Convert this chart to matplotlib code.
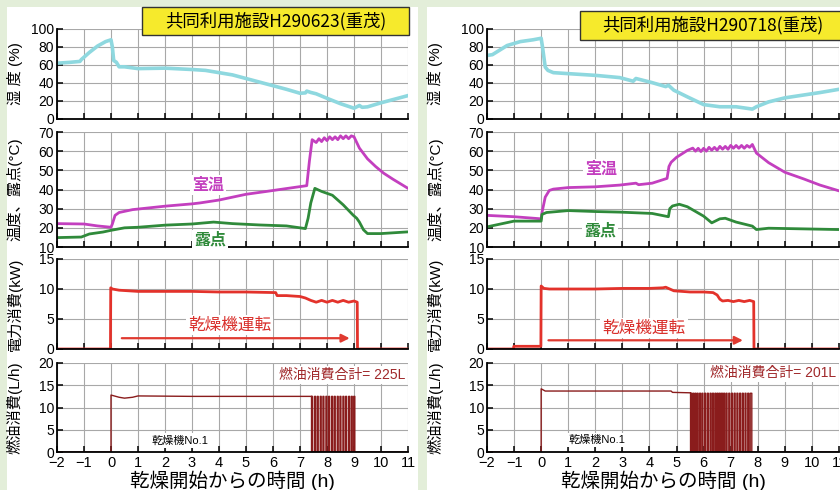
import matplotlib
matplotlib.use("Agg")
import matplotlib.pyplot as plt
from matplotlib.patches import Rectangle

plt.rcParams['font.family'] = ['Liberation Sans', 'Noto Sans CJK JP', 'DejaVu Sans']

# ---------------- data : left panel (H290623) ----------------
titles = ["共同利用施設H290623(重茂)", "共同利用施設H290718(重茂)"]
fuel_totals = ["燃油消費合計= 225L", "燃油消費合計= 201L"]

hum_t_L = [-2, -1.5, -1.15, -1.1, -0.8, -0.5, -0.2, 0, 0.05, 0.1, 0.2, 0.3, 0.5, 1, 2, 3, 3.5, 4, 4.5, 5,
           5.5, 6, 6.5, 7, 7.2, 7.25, 7.4, 7.6, 8, 8.5, 9, 9.2, 9.3, 9.5, 10, 10.5, 11]
hum_v_L = [62, 63, 64, 66, 74, 81, 86, 88, 80, 65, 63, 58, 58, 56, 56.5, 55, 54, 51.5, 49, 45,
           41, 37, 33, 28.6, 29, 31, 29.5, 28, 23, 17, 12, 15, 13, 13.5, 18, 22, 26]

room_t_L = [-2, -1, -0.5, 0, 0.05, 0.15, 0.3, 0.8, 2, 3, 3.3, 4, 4.5, 5, 5.76, 6.5, 7, 7.25, 7.35, 7.45,
            7.6, 7.7, 7.8, 7.9, 8.0, 8.1, 8.2, 8.3, 8.4, 8.5, 8.6, 8.7, 8.8, 8.9, 9.0, 9.2, 9.5, 9.8,
            10.1, 10.45, 11]
room_v_L = [22.2, 22, 21, 20.3, 22, 26.5, 28, 29.5, 31.3, 32.5, 33, 34.5, 36, 37.5, 39, 40.5, 41.5, 42, 55, 66,
            64.5, 66.5, 65, 67, 65.5, 67.5, 66, 67.5, 66, 68, 66.5, 68, 66.5, 68, 67.5, 61.6, 56, 52,
            48.5, 45.3, 40.6]

dew_t_L = [-2, -1.1, -0.8, -0.3, 0, 0.5, 1, 2, 3, 3.8, 4.5, 5.5, 6.5, 7, 7.2, 7.3, 7.4, 7.55, 7.8, 8.2,
           8.6, 8.97, 9.1, 9.2, 9.35, 9.5, 10, 11]
dew_v_L = [14.9, 15.2, 16.8, 17.8, 18.7, 20, 20.3, 21.4, 22, 23, 22.2, 21.5, 21, 20, 19.6, 25, 33, 40.6, 39, 37,
           32, 26.6, 25, 23, 19, 17, 17, 17.9]

pow_t_L = [-2, -0.02, -0.01, 0.05, 0.3, 1, 2, 3, 4, 5, 6.1, 6.15, 6.5, 7.0, 7.2, 7.4, 7.6, 7.8, 8.0, 8.2,
           8.4, 8.6, 8.8, 9.0, 9.12, 9.13, 11]
pow_v_L = [0, 0, 10.2, 10.0, 9.8, 9.6, 9.6, 9.6, 9.5, 9.5, 9.4, 8.9, 8.9, 8.75, 8.5, 8.1, 7.8, 8.1, 7.8, 8.1,
           7.8, 8.1, 7.8, 8.0, 7.8, 0, 0]

fuel_t_L = [-2, 0, 0, 0.3, 0.5, 0.8, 1.0, 3, 5, 7.43]
fuel_v_L = [0, 0, 12.8, 12.3, 12.1, 12.3, 12.6, 12.5, 12.5, 12.5]
pulse_on_L = [7.43, 7.54, 7.64, 7.75, 7.85, 7.96, 8.06, 8.17, 8.27, 8.38, 8.48, 8.59, 8.69, 8.80, 8.90, 8.99]
pulse_off_L = [7.465, 7.575, 7.675, 7.785, 7.885, 7.995, 8.095, 8.205, 8.305, 8.415, 8.515, 8.625, 8.725,
               8.835, 8.935, 9.03]
pulse_h_L = 12.5

# ---------------- data : right panel (H290718) ----------------
hum_t_R = [-2, -1.8, -1.26, -0.77, -0.3, 0, 0.05, 0.15, 0.25, 0.45, 1, 2, 2.9, 3.4, 3.5, 4.1, 4.6, 4.7,
           4.9, 5.4, 6, 6.6, 7.2, 7.8, 7.95, 8.4, 9, 10.3, 11]
hum_v_R = [70.6, 71.5, 81.6, 86, 88, 89.7, 80, 57.7, 54, 51.5, 50.4, 48.5, 46, 42, 45, 40.4, 36, 37.5,
           32, 24.6, 16, 13.6, 13.6, 11, 13.6, 19, 23.5, 29.4, 33]

room_t_R = [-2, -1, 0, 0.03, 0.15, 0.3, 0.45, 1, 2, 2.9, 3.5, 3.6, 4.1, 4.65, 4.72, 4.8, 5.0, 5.4, 5.6, 5.7,
            5.8, 5.9, 6.0, 6.1, 6.2, 6.3, 6.4, 6.5, 6.6, 6.7, 6.8, 6.9, 7.0, 7.1, 7.2, 7.3, 7.4, 7.5, 7.6,
            7.7, 7.8, 7.95, 8.4, 9, 9.7, 10.3, 11]
room_v_R = [26.5, 25.8, 24.7, 27.9, 36, 39.5, 40.2, 41, 41.4, 42.3, 43.3, 42.5, 43.3, 45.8, 52, 54.2, 56.8, 60.4, 61.6, 60,
            61.5, 59.8, 61.5, 60, 62, 60.5, 62, 60.5, 62.5, 61, 62.5, 61, 63, 61.5, 63, 61.5, 63, 61.5, 63,
            62, 63.5, 59, 54, 49, 45.5, 42.3, 39.3]

dew_t_R = [-2, -1.5, -1, 0, 0.03, 0.2, 1, 2, 2.9, 4.1, 4.7, 4.75, 4.85, 5.1, 5.4, 6, 6.3, 6.5, 6.6, 6.8,
           7.2, 7.8, 7.95, 8.4, 11]
dew_v_R = [20.5, 22, 23.5, 23.5, 27, 28, 29, 28.5, 28.2, 27.5, 25.8, 30, 31.4, 32.3, 31, 26.1, 22.6, 24, 24.7, 25,
           23, 20.9, 19.1, 19.8, 19.1]

pow_t_R = [-2, -1.02, -1.01, -0.01, 0.0, 0.1, 0.3, 1, 2, 3, 4, 4.5, 4.6, 4.9, 5.5, 6, 6.35, 6.5, 6.6, 6.7,
           6.9, 7.1, 7.3, 7.5, 7.7, 7.85, 7.86, 11]
pow_v_R = [0, 0, 0.45, 0.45, 10.5, 10.1, 10.0, 10.0, 10.0, 10.1, 10.1, 10.2, 10.3, 9.7, 9.5, 9.5, 9.4, 9.0, 8.3, 8.0,
           8.1, 7.9, 8.1, 7.9, 8.1, 7.9, 0, 0]

fuel_t_R = [-2, 0, 0, 0.15, 4.8, 4.85, 5.52]
fuel_v_R = [0, 0, 14.2, 13.7, 13.7, 13.4, 13.3]
pulse_on_R = [5.52, 5.60, 5.68, 5.76, 5.85, 5.94, 6.04, 6.14, 6.24, 6.33, 6.42, 6.50, 6.58, 6.66, 6.74,
              6.83, 6.93, 7.03, 7.13, 7.23, 7.33, 7.43, 7.53, 7.63, 7.72]
pulse_off_R = [5.555, 5.635, 5.715, 5.795, 5.885, 5.975, 6.075, 6.175, 6.275, 6.365, 6.455, 6.535, 6.615,
               6.695, 6.775, 6.865, 6.965, 7.065, 7.165, 7.265, 7.365, 7.465, 7.565, 7.665, 7.78]
pulse_h_R = 13.2

x_ticks = list(range(-2, 12))

# label positions per panel (data coords)
lab_room = [(3.6, 42.4), (2.23, 50.7)]
lab_dew = [(3.67, 13.6), (2.17, 18.2)]
lab_run = [(4.4, 4.0), (3.8, 3.5)]
arrow_run = [(0.4, 8.84, 1.8), (0.27, 7.45, 1.45)]
lab_no1 = [(2.56, 2.6), (2.05, 2.7)]
lab_total = [(10.9, 17.3, 'right'), (10.9, 17.8, 'right')]

# ---------------- styling ----------------
C_HUM = '#8ed8df'
C_ROOM = '#c33fbf'
C_DEW = '#2f8a3a'
C_POW = '#e3322b'
C_FUEL = '#8a1c1c'
C_GRID = '#a8a8a8'

fig = plt.figure(figsize=(8.4, 4.9), dpi=100, facecolor='#e3eed9')
W, H = 840.0, 490.0

# white panels (behind everything)
for (x0, x1) in [(7, 418), (427, 845)]:
    fig.patches.append(Rectangle((x0 / W, 0), (x1 - x0) / W, 1 - 7 / H, transform=fig.transFigure,
                                 facecolor='white', edgecolor='none', zorder=-10))

rows = [(29, 119), (132, 247), (259, 349), (363, 452)]
cols = [(57, 408), (487, 839)]
ylab_x = [-0.097, -0.125]


def style(ax, ylim, yticks, show_x):
    ax.set_xlim(-2, 11)
    ax.set_ylim(*ylim)
    ax.set_xticks(x_ticks)
    ax.set_yticks(yticks)
    ax.grid(True, color=C_GRID, lw=0.8)
    ax.set_axisbelow(True)
    ax.patch.set_alpha(0)
    for s in ['top', 'right']:
        ax.spines[s].set_visible(False)
    for s in ['left', 'bottom']:
        ax.spines[s].set_linewidth(1.3)
        ax.spines[s].set_color('black')
    ax.tick_params(direction='in', length=4, width=1.1, labelsize=10, pad=2)
    if not show_x:
        ax.tick_params(axis='x', labelbottom=False)
    else:
        ax.tick_params(axis='x', labelsize=10.5, pad=3)


def fuel_series(bt, bv, on, off, h):
    t = list(bt) + [bt[-1]]
    v = list(bv) + [0]
    for a, b in zip(on, off):
        t += [a, a, b, b]
        v += [0, h, h, 0]
    t.append(11)
    v.append(0)
    return t, v


panels = [
    dict(hum=(hum_t_L, hum_v_L), room=(room_t_L, room_v_L), dew=(dew_t_L, dew_v_L), pw=(pow_t_L, pow_v_L),
         fuel=fuel_series(fuel_t_L, fuel_v_L, pulse_on_L, pulse_off_L, pulse_h_L)),
    dict(hum=(hum_t_R, hum_v_R), room=(room_t_R, room_v_R), dew=(dew_t_R, dew_v_R), pw=(pow_t_R, pow_v_R),
         fuel=fuel_series(fuel_t_R, fuel_v_R, pulse_on_R, pulse_off_R, pulse_h_R)),
]

white_box = dict(facecolor='white', edgecolor='none', pad=1.5)

for k, (cx0, cx1) in enumerate(cols):
    d = panels[k]
    axs = []
    for (ry0, ry1) in rows:
        axs.append(fig.add_axes([cx0 / W, 1 - ry1 / H, (cx1 - cx0) / W, (ry1 - ry0) / H]))
    a1, a2, a3, a4 = axs

    # humidity
    a1.plot(*d['hum'], color=C_HUM, lw=2.6, solid_joinstyle='round')
    style(a1, (0, 100), [0, 20, 40, 60, 80, 100], False)
    a1.set_ylabel('湿 度 (%)', fontsize=11)

    # temperature / dew point
    a2.plot(*d['room'], color=C_ROOM, lw=2.0)
    a2.plot(*d['dew'], color=C_DEW, lw=2.0)
    style(a2, (10, 70), [10, 20, 30, 40, 50, 60, 70], False)
    a2.set_ylabel('温度、露点(°C)', fontsize=11)
    a2.text(*lab_room[k], '室温', color=C_ROOM, fontsize=11.5, ha='center', va='center',
            fontweight='bold', bbox=white_box, zorder=5)
    a2.text(*lab_dew[k], '露点', color=C_DEW, fontsize=11.5, ha='center', va='center',
            fontweight='bold', bbox=white_box, zorder=5)

    # power
    a3.plot(*d['pw'], color=C_POW, lw=2.0)
    style(a3, (0, 15), [0, 5, 10, 15], False)
    a3.set_ylabel('電力消費(kW)', fontsize=11)
    a3.text(*lab_run[k], '乾燥機運転', color='#d9302c', fontsize=12, ha='center', va='center',
            bbox=white_box, zorder=5)
    xs, xe, ya = arrow_run[k]
    a3.annotate('', xy=(xe, ya), xytext=(xs, ya),
                arrowprops=dict(arrowstyle='-|>', color='#e03a30', lw=1.6, mutation_scale=12,
                                shrinkA=0, shrinkB=0))

    # fuel
    a4.plot(*d['fuel'], color=C_FUEL, lw=1.0)
    style(a4, (0, 20), [0, 5, 10, 15, 20], True)
    a4.set_xticklabels([str(v).replace('-', '−') for v in x_ticks])
    a4.set_ylabel('燃油消費(L/h)', fontsize=11)
    a4.text(*lab_no1[k], '乾燥機No.1', color='black', fontsize=8, ha='center', va='center',
            bbox=white_box, zorder=5)
    tx, ty, tha = lab_total[k]
    a4.text(tx, ty, fuel_totals[k], color='#a0282a', fontsize=10, ha=tha, va='center',
            bbox=white_box, zorder=5)
    a4.set_xlabel('乾燥開始からの時間 (h)', fontsize=14, labelpad=0)

    for ax in axs:
        ax.yaxis.set_label_coords(ylab_x[k], 0.5)

# title boxes
title_boxes = [(142, 7, 409, 35), (580, 11, 850, 40)]
for k, (x0, y0, x1, y1) in enumerate(title_boxes):
    fig.patches.append(Rectangle((x0 / W, 1 - y1 / H), (x1 - x0) / W, (y1 - y0) / H,
                                 transform=fig.transFigure, facecolor='#f6ea2c', edgecolor='#333333',
                                 lw=1.0, zorder=10))
    cx = (153 + 398) / 2 if k == 0 else (590 + 836) / 2
    fig.text(cx / W, 1 - ((y0 + y1) / 2) / H, titles[k], fontsize=12.5, ha='center', va='center',
             family=['Noto Sans CJK JP', 'DejaVu Sans'], zorder=11)

fig.savefig('out.png', dpi=100, facecolor=fig.get_facecolor())
